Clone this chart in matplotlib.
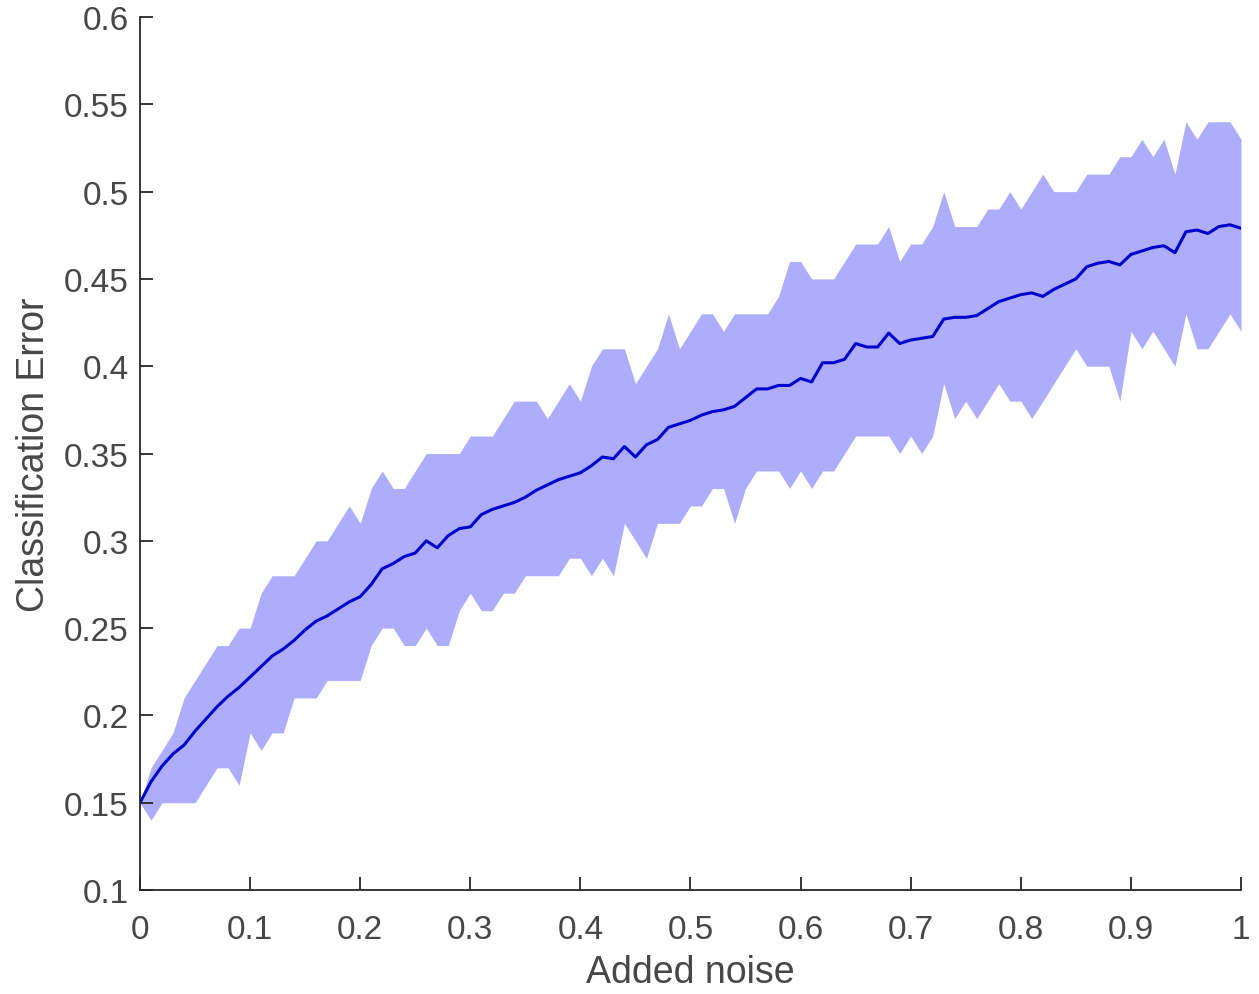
import numpy as np
import matplotlib
matplotlib.use("Agg")
import matplotlib.pyplot as plt

# noise levels 0.00 .. 1.00 in steps of 0.01
noise = [round(i * 0.01, 2) for i in range(101)]

mean_err = [
    0.150, 0.162, 0.171, 0.178, 0.183, 0.191, 0.198, 0.205, 0.211, 0.216,
    0.222, 0.228, 0.234, 0.238, 0.243, 0.249, 0.254, 0.257, 0.261, 0.265,
    0.268, 0.275, 0.284, 0.287, 0.291, 0.293, 0.300, 0.296, 0.303, 0.307,
    0.308, 0.315, 0.318, 0.320, 0.322, 0.325, 0.329, 0.332, 0.335, 0.337,
    0.339, 0.343, 0.348, 0.347, 0.354, 0.348, 0.355, 0.358, 0.365, 0.367,
    0.369, 0.372, 0.374, 0.375, 0.377, 0.382, 0.387, 0.387, 0.389, 0.389,
    0.393, 0.391, 0.402, 0.402, 0.404, 0.413, 0.411, 0.411, 0.419, 0.413,
    0.415, 0.416, 0.417, 0.427, 0.428, 0.428, 0.429, 0.433, 0.437, 0.439,
    0.441, 0.442, 0.440, 0.444, 0.447, 0.450, 0.457, 0.459, 0.460, 0.458,
    0.464, 0.466, 0.468, 0.469, 0.465, 0.477, 0.478, 0.476, 0.480, 0.481,
    0.479,
]

upper_err = [
    0.15, 0.17, 0.18, 0.19, 0.21, 0.22, 0.23, 0.24, 0.24, 0.25,
    0.25, 0.27, 0.28, 0.28, 0.28, 0.29, 0.30, 0.30, 0.31, 0.32,
    0.31, 0.33, 0.34, 0.33, 0.33, 0.34, 0.35, 0.35, 0.35, 0.35,
    0.36, 0.36, 0.36, 0.37, 0.38, 0.38, 0.38, 0.37, 0.38, 0.39,
    0.38, 0.40, 0.41, 0.41, 0.41, 0.39, 0.40, 0.41, 0.43, 0.41,
    0.42, 0.43, 0.43, 0.42, 0.43, 0.43, 0.43, 0.43, 0.44, 0.46,
    0.46, 0.45, 0.45, 0.45, 0.46, 0.47, 0.47, 0.47, 0.48, 0.46,
    0.47, 0.47, 0.48, 0.50, 0.48, 0.48, 0.48, 0.49, 0.49, 0.50,
    0.49, 0.50, 0.51, 0.50, 0.50, 0.50, 0.51, 0.51, 0.51, 0.52,
    0.52, 0.53, 0.52, 0.53, 0.51, 0.54, 0.53, 0.54, 0.54, 0.54,
    0.53,
]

lower_err = [
    0.15, 0.14, 0.15, 0.15, 0.15, 0.15, 0.16, 0.17, 0.17, 0.16,
    0.19, 0.18, 0.19, 0.19, 0.21, 0.21, 0.21, 0.22, 0.22, 0.22,
    0.22, 0.24, 0.25, 0.25, 0.24, 0.24, 0.25, 0.24, 0.24, 0.26,
    0.27, 0.26, 0.26, 0.27, 0.27, 0.28, 0.28, 0.28, 0.28, 0.29,
    0.29, 0.28, 0.29, 0.28, 0.31, 0.30, 0.29, 0.31, 0.31, 0.31,
    0.32, 0.32, 0.33, 0.33, 0.31, 0.33, 0.34, 0.34, 0.34, 0.33,
    0.34, 0.33, 0.34, 0.34, 0.35, 0.36, 0.36, 0.36, 0.36, 0.35,
    0.36, 0.35, 0.36, 0.39, 0.37, 0.38, 0.37, 0.38, 0.39, 0.38,
    0.38, 0.37, 0.38, 0.39, 0.40, 0.41, 0.40, 0.40, 0.40, 0.38,
    0.42, 0.41, 0.42, 0.41, 0.40, 0.43, 0.41, 0.41, 0.42, 0.43,
    0.42,
]

x_ticks = [0, 0.1, 0.2, 0.3, 0.4, 0.5, 0.6, 0.7, 0.8, 0.9, 1]
x_tick_labels = ["0", "0.1", "0.2", "0.3", "0.4", "0.5", "0.6", "0.7", "0.8", "0.9", "1"]
y_ticks = [0.1, 0.15, 0.2, 0.25, 0.3, 0.35, 0.4, 0.45, 0.5, 0.55, 0.6]
y_tick_labels = ["0.1", "0.15", "0.2", "0.25", "0.3", "0.35", "0.4", "0.45", "0.5", "0.55", "0.6"]

plt.rcParams["font.family"] = ["Liberation Sans", "DejaVu Sans"]

fig = plt.figure(figsize=(12.59, 9.95), dpi=100)
ax = fig.add_axes([0.1112, 0.1045, 0.8745, 0.8774])

ax.fill_between(noise, lower_err, upper_err, color="#adadfb", linewidth=0)
ax.plot(noise, mean_err, color="#0000cd", linewidth=2.2)

ax.set_xlim(0, 1)
ax.set_ylim(0.1, 0.6)
ax.set_xticks(x_ticks)
ax.set_xticklabels(x_tick_labels)
ax.set_yticks(y_ticks)
ax.set_yticklabels(y_tick_labels)

for side in ["top", "right"]:
    ax.spines[side].set_visible(False)
for side in ["left", "bottom"]:
    ax.spines[side].set_color("#262626")
    ax.spines[side].set_linewidth(1.3)

ax.tick_params(direction="in", length=9.5, width=1.3, color="#262626",
               labelsize=24, labelcolor="#474747")
ax.tick_params(axis="x", pad=17)
ax.tick_params(axis="y", pad=8)

ax.set_xlabel("Added noise", fontsize=27, color="#474747", labelpad=7)
ax.set_ylabel("Classification Error", fontsize=27, color="#474747", labelpad=9)

fig.savefig("out.png", dpi=100)
